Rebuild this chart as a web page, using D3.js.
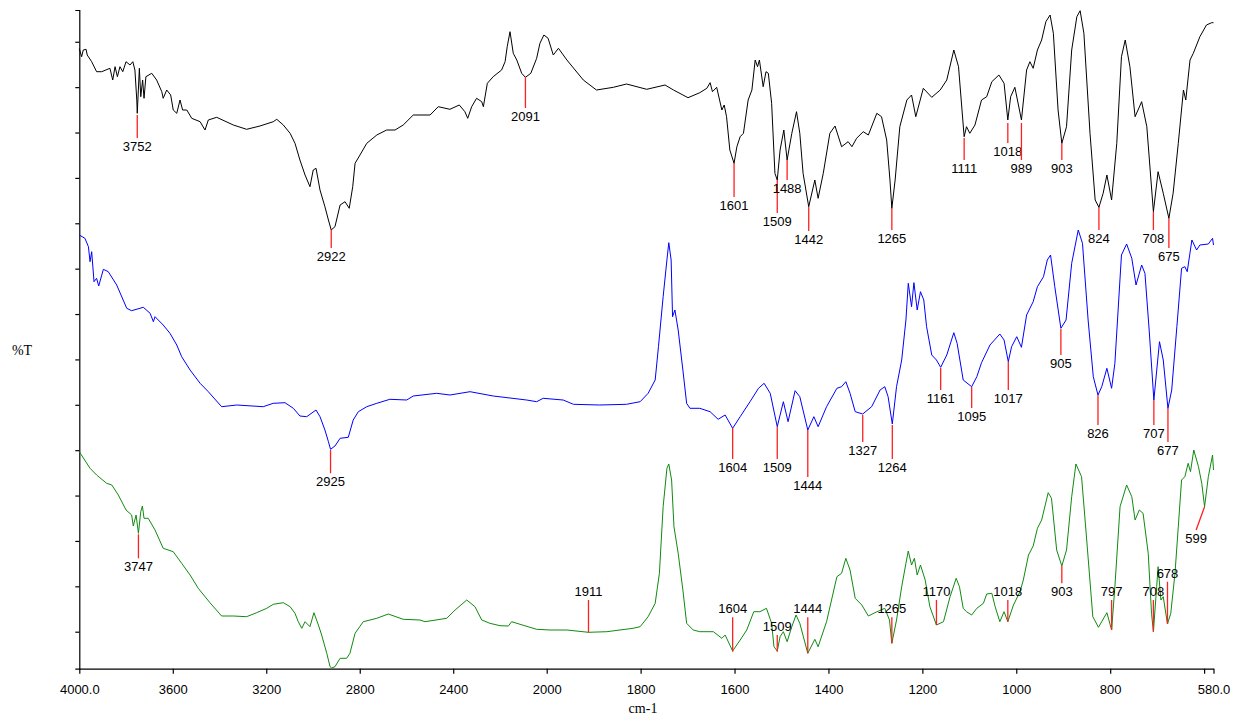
<!DOCTYPE html>
<html><head><meta charset="utf-8">
<script src="https://cdn.jsdelivr.net/npm/d3@7"></script>
<style>body{margin:0;background:#fff}svg{display:block}</style>
</head><body>
<svg id="chart" width="1239" height="719"></svg>
<script>
// x axis: wavenumber, with the usual scale change at 2000 cm-1
const xBreaks = [4000, 2000, 580];
const xTickValues = [4000, 3600, 3200, 2800, 2400, 2000, 1800, 1600, 1400, 1200, 1000, 800, 600, 580];
const xTickLabels = ["4000.0", "3600", "3200", "2800", "2400", "2000", "1800", "1600", "1400", "1200", "1000", "800", "", "580.0"];
const yDomain = [0, 65.87];

// spectra: [wavenumber, %T (offset, stacked)]
const seriesBlack = [[4000,62.0],[3990,61.2],[3983,61.87],[3971,61.94],[3966,61.37],[3947,60.7],[3926,59.7],[3904,59.7],[3869,60.04],[3857,58.87],[3847,60.2],[3837,59.2],[3826,60.2],[3814,59.7],[3800,60.7],[3783,60.37],[3771,60.7],[3762,59.87],[3754,56.87],[3752,55.54],[3743,60.04],[3737,57.2],[3729,58.87],[3723,57.04],[3715,59.2],[3690,59.54],[3669,58.87],[3647,57.7],[3641,57.04],[3626,57.87],[3609,57.37],[3598,55.87],[3583,55.54],[3569,56.87],[3558,55.87],[3540,55.87],[3519,55.04],[3483,54.7],[3462,53.87],[3448,54.87],[3412,55.14],[3341,54.37],[3284,53.94],[3227,54.27],[3170,54.7],[3155,54.94],[3127,54.37],[3098,53.54],[3077,52.54],[3056,50.87],[3034,49.37],[3013,48.2],[2999,49.87],[2987,50.04],[2970,47.87],[2949,46.2],[2934,44.87],[2922,43.87],[2906,44.2],[2884,46.37],[2863,46.7],[2845,46.04],[2830,48.2],[2820,50.54],[2799,51.37],[2770,52.54],[2727,53.37],[2685,53.87],[2649,53.87],[2614,54.37],[2571,55.37],[2499,55.37],[2464,56.2],[2414,55.94],[2374,56.37],[2350,55.7],[2338,55.04],[2321,56.2],[2300,57.04],[2278,56.7],[2271,56.2],[2254,58.54],[2229,59.2],[2193,59.87],[2178,60.7],[2169,62.2],[2157,63.7],[2143,61.54],[2128,60.87],[2107,59.54],[2091,59.14],[2068,59.54],[2043,61.04],[2029,62.54],[2012,63.37],[1997,63.04],[1986,61.37],[1975,62.04],[1957,60.87],[1922,58.87],[1894,57.87],[1858,58.14],[1830,58.47],[1787,57.94],[1748,58.37],[1730,57.87],[1699,57.1],[1674,57.6],[1659,58.04],[1652,58.6],[1647,57.7],[1638,58.14],[1627,55.87],[1622,56.37],[1617,55.2],[1610,51.87],[1601,50.54],[1595,52.2],[1588,53.2],[1581,53.54],[1571,56.87],[1563,57.87],[1556,60.87],[1551,60.2],[1547,60.87],[1539,58.2],[1533,59.7],[1528,59.54],[1521,56.54],[1514,49.54],[1509,48.87],[1503,51.87],[1495,53.87],[1488,50.87],[1478,53.54],[1468,55.7],[1461,53.54],[1454,49.54],[1442,46.2],[1429,48.87],[1422,47.04],[1411,49.54],[1397,53.54],[1386,54.27],[1372,52.2],[1358,52.7],[1350,52.2],[1340,53.04],[1326,53.7],[1315,53.37],[1297,55.54],[1287,55.2],[1276,52.87],[1269,48.87],[1265,46.04],[1258,48.87],[1248,54.2],[1233,56.87],[1223,57.37],[1214,55.2],[1198,58.04],[1180,57.14],[1162,57.87],[1148,58.87],[1133,61.87],[1123,60.2],[1111,53.2],[1106,54.2],[1099,53.54],[1088,54.37],[1074,56.87],[1063,57.2],[1052,58.7],[1037,59.37],[1026,58.54],[1018,54.87],[1012,57.2],[1003,58.14],[989,54.87],[978,59.87],[971,60.7],[964,60.04],[955,61.87],[946,62.87],[937,64.7],[928,65.37],[921,63.54],[911,55.87],[903,52.54],[893,54.2],[882,61.87],[871,65.2],[864,65.8],[856,63.54],[843,53.54],[832,46.87],[824,46.14],[815,47.54],[807,49.37],[797,46.87],[786,52.54],[776,61.2],[768,62.87],[758,60.2],[747,55.2],[733,56.7],[722,54.2],[708,45.7],[698,49.7],[687,47.54],[675,45.04],[666,47.54],[655,52.54],[644,57.87],[639,56.87],[630,60.87],[623,61.54],[609,63.2],[595,64.37],[584,64.6],[580,64.6]];

const seriesBlue = [[4000,43.37],[3976,43.04],[3961,42.2],[3954,40.7],[3947,41.7],[3937,38.7],[3926,39.04],[3917,38.27],[3897,39.94],[3876,39.7],[3840,38.37],[3797,36.04],[3776,35.8],[3726,36.14],[3697,35.54],[3683,34.7],[3676,35.2],[3641,34.37],[3612,33.54],[3583,32.37],[3562,31.2],[3526,29.87],[3483,28.54],[3448,27.7],[3391,26.2],[3326,26.37],[3213,26.2],[3170,26.54],[3120,26.6],[3084,26.04],[3056,25.27],[3027,25.2],[2987,25.87],[2970,25.2],[2949,23.87],[2934,22.7],[2925,21.94],[2906,22.27],[2884,23.04],[2849,23.14],[2828,24.87],[2806,25.7],[2770,26.2],[2727,26.54],[2671,26.94],[2599,26.87],[2571,27.27],[2471,27.54],[2414,27.37],[2328,27.7],[2229,27.27],[2086,26.87],[2043,26.7],[2015,27.04],[1965,26.87],[1943,26.44],[1887,26.37],[1830,26.44],[1801,26.7],[1784,27.54],[1769,28.87],[1762,32.2],[1752,37.2],[1744,40.87],[1740,42.6],[1735,40.87],[1732,35.2],[1727,35.87],[1720,33.87],[1710,29.87],[1702,26.54],[1695,26.04],[1674,26.04],[1652,25.7],[1635,24.94],[1620,25.37],[1604,24.04],[1588,25.2],[1567,26.7],[1549,28.04],[1537,28.54],[1524,27.54],[1509,24.2],[1496,26.7],[1486,24.7],[1471,27.8],[1461,27.2],[1444,23.87],[1431,25.2],[1422,24.2],[1404,26.2],[1382,28.04],[1372,28.2],[1363,28.7],[1354,27.54],[1343,25.7],[1327,25.47],[1308,26.2],[1290,27.87],[1280,28.2],[1273,27.2],[1264,24.47],[1255,28.2],[1244,30.87],[1235,34.87],[1230,38.54],[1223,36.2],[1218,38.6],[1211,35.87],[1204,37.7],[1197,36.87],[1191,34.2],[1180,31.37],[1170,30.87],[1161,30.14],[1148,31.37],[1133,33.6],[1126,32.54],[1113,28.87],[1095,28.2],[1084,29.2],[1074,30.6],[1056,32.37],[1035,33.47],[1026,32.87],[1017,30.7],[1010,32.2],[999,33.2],[989,32.14],[978,35.37],[964,36.7],[955,38.2],[942,39.2],[934,40.87],[927,41.37],[918,38.2],[905,34.04],[894,34.87],[882,40.54],[868,43.87],[859,42.54],[847,34.87],[836,29.2],[826,27.37],[818,28.2],[807,30.04],[797,28.04],[790,30.54],[776,41.37],[765,42.47],[754,41.04],[745,38.37],[733,40.37],[726,39.54],[717,33.87],[707,26.87],[695,32.7],[687,30.87],[677,26.04],[669,27.87],[658,34.2],[648,40.04],[641,40.2],[636,39.7],[626,42.87],[616,41.87],[609,42.37],[591,42.47],[582,43.04],[580,42.37]];

const seriesGreen = [[4000,21.7],[3954,20.04],[3926,19.37],[3883,18.54],[3861,18.37],[3833,17.37],[3800,15.87],[3776,15.37],[3769,14.27],[3757,15.37],[3747,13.54],[3737,15.7],[3730,16.27],[3723,15.04],[3705,15.04],[3676,13.87],[3641,12.04],[3598,11.7],[3562,10.54],[3526,9.37],[3491,8.04],[3441,6.6],[3391,5.27],[3341,5.27],[3284,5.2],[3241,5.6],[3198,6.04],[3170,6.44],[3127,6.6],[3098,6.2],[3077,5.54],[3063,4.7],[3048,4.04],[3034,4.7],[3013,4.2],[2996,5.6],[2977,4.37],[2963,3.37],[2941,1.54],[2927,0.2],[2920,0.07],[2906,0.2],[2884,1.04],[2856,1.04],[2842,1.54],[2820,3.54],[2785,4.7],[2727,5.04],[2678,5.47],[2614,4.94],[2542,4.87],[2521,4.7],[2428,5.04],[2392,5.87],[2342,6.87],[2307,6.2],[2278,4.87],[2243,4.54],[2200,4.3],[2164,4.27],[2150,4.7],[2114,4.44],[2043,3.94],[1993,3.87],[1957,3.87],[1911,3.64],[1872,3.7],[1816,4.04],[1801,4.2],[1784,5.2],[1769,6.54],[1760,9.54],[1752,16.2],[1744,20.04],[1740,20.47],[1734,18.87],[1729,14.2],[1720,11.54],[1710,7.87],[1702,4.54],[1688,3.87],[1674,3.7],[1645,3.7],[1627,3.04],[1620,3.37],[1604,1.77],[1588,2.87],[1574,3.87],[1559,5.7],[1546,5.7],[1532,6.04],[1521,4.54],[1516,2.2],[1509,1.77],[1503,3.2],[1496,3.7],[1488,2.7],[1478,4.2],[1469,5.37],[1461,4.54],[1444,1.54],[1429,2.94],[1422,2.2],[1404,4.7],[1382,9.2],[1372,9.54],[1363,11.04],[1354,9.87],[1343,7.04],[1329,6.37],[1315,5.27],[1301,5.6],[1280,6.04],[1270,4.87],[1265,2.54],[1255,4.87],[1244,8.2],[1235,10.54],[1230,11.77],[1223,10.37],[1217,11.04],[1211,9.37],[1204,10.37],[1194,8.87],[1184,6.2],[1170,4.37],[1155,4.7],[1141,7.2],[1128,9.04],[1121,8.2],[1113,6.04],[1106,5.7],[1095,5.37],[1084,6.04],[1070,6.54],[1063,7.47],[1052,7.54],[1045,6.2],[1035,4.7],[1026,5.7],[1018,4.7],[1006,6.37],[992,7.7],[985,8.87],[974,11.37],[964,12.27],[955,14.04],[946,14.87],[932,17.6],[925,17.04],[914,11.87],[903,10.27],[893,11.87],[882,17.2],[873,20.47],[861,19.2],[850,12.87],[837,5.2],[825,4.14],[807,5.6],[797,3.87],[790,8.2],[779,16.2],[765,18.37],[754,17.2],[747,14.87],[738,15.87],[730,15.54],[719,11.54],[712,5.54],[708,3.7],[701,8.2],[698,10.2],[692,6.87],[687,7.2],[678,4.47],[671,5.54],[662,9.54],[655,14.2],[648,18.87],[641,19.2],[634,20.54],[629,19.7],[622,21.87],[612,20.2],[605,18.54],[599,16.2],[591,19.2],[582,21.37],[580,19.87]];

// peak marks: [wavenumber, %T at curve end, %T at label end, optional wavenumber at label end]
const peaksBlack = [[3752,55.37,53.07],[2922,43.87,42.07],[2091,59.17,56.07],[1601,50.57,47.17],[1509,48.87,45.57],[1488,50.87,48.87],[1442,46.17,43.77],[1265,46.07,43.87],[1111,53.07,50.87],[1018,54.57,52.57],[989,54.57,50.87],[903,52.57,50.87],[824,46.17,43.87],[708,45.67,43.87],[675,45.07,42.07]];
const peaksBlue = [[2925,21.87,19.54],[1604,24.07,20.97],[1509,24.17,20.97],[1444,23.87,19.17],[1327,25.37,22.67],[1264,24.37,20.97],[1161,30.07,27.87],[1095,28.17,26.07],[1017,30.67,27.87],[905,33.97,31.37],[826,27.37,24.37],[707,26.87,24.37],[677,26.07,22.67]];
const peaksGreen = [[3747,13.44,11.04],[1911,3.6,6.87],[1604,1.7,5.14],[1509,1.7,3.37],[1444,1.54,5.14],[1265,2.54,5.14],[1170,4.37,6.87],[1018,4.7,6.87],[903,10.27,8.54],[797,3.87,6.87],[708,3.7,6.87],[678,4.47,8.7],[599,16.2,13.87,617]];

const svg = d3.select("#chart");
const x = d3.scaleLinear().domain(xBreaks).range([79.3, 546.7, 1213.5]);
const y = d3.scaleLinear().domain(yDomain).range([668.7, 10]);
const sansFont = "'Liberation Sans', Arial, sans-serif";
const serifFont = "'Liberation Serif', 'Times New Roman', serif";

// y axis (no labels)
const yTickStep = 4.538;
const yTicks = d3.range(14).map(k => 3.7 + yTickStep * k);
svg.append("g").attr("transform", "translate(79.3,0)")
  .call(d3.axisLeft(y).tickValues(yTicks).tickFormat("").tickSize(4).tickSizeOuter(4))
  .call(g => g.selectAll("path,line").attr("stroke", "#000").attr("stroke-width", 1.2));

// x axis
svg.append("g").attr("transform", "translate(0,668.7)")
  .call(d3.axisBottom(x).tickValues(xTickValues).tickFormat((d, i) => xTickLabels[i]).tickSize(5).tickSizeOuter(0).tickPadding(11))
  .call(g => g.selectAll("path,line").attr("stroke", "#000").attr("stroke-width", 1.2))
  .call(g => g.selectAll("text").attr("font-family", sansFont).attr("font-size", 13).attr("fill", "#000"));

svg.append("text").attr("x", 643).attr("y", 708).attr("text-anchor", "middle").attr("dominant-baseline", "central")
  .attr("font-family", serifFont).attr("font-size", 14).text("cm-1");
svg.append("text").attr("x", 22).attr("y", 350).attr("text-anchor", "middle").attr("dominant-baseline", "central")
  .attr("font-family", serifFont).attr("font-size", 14).text("%T");

const line = d3.line().x(d => x(d[0])).y(d => y(d[1]));
const spectra = [
  {data: seriesBlack, color: "#000000", peaks: peaksBlack},
  {data: seriesBlue, color: "#0000ff", peaks: peaksBlue},
  {data: seriesGreen, color: "#108a10", peaks: peaksGreen}
];

spectra.forEach(s => {
  svg.append("path").datum(s.data).attr("d", line)
    .attr("fill", "none").attr("stroke", s.color).attr("stroke-width", 1).attr("stroke-linejoin", "round");
});

spectra.forEach(s => {
  const g = svg.append("g");
  s.peaks.forEach(p => {
    const wn = p[0], labelWn = p[3] !== undefined ? p[3] : p[0];
    const y1 = y(p[1]), y2 = y(p[2]);
    g.append("line").attr("x1", x(wn)).attr("y1", y1).attr("x2", x(labelWn)).attr("y2", y2)
      .attr("stroke", "#ff2020").attr("stroke-width", 1.3);
    const below = y2 > y1;
    g.append("text").attr("x", x(labelWn)).attr("y", below ? y2 + 8.5 : y2 - 8.5)
      .attr("text-anchor", "middle").attr("dominant-baseline", "central")
      .attr("font-family", sansFont).attr("font-size", 13).attr("fill", "#000")
      .text(String(wn));
  });
});
</script>
</body></html>
